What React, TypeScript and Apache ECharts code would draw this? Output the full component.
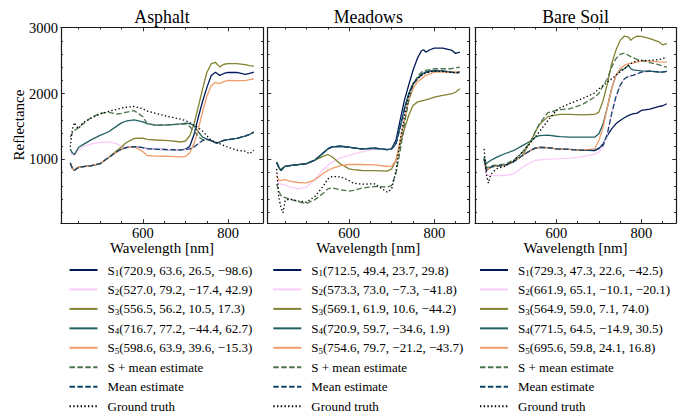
import React, { useEffect, useRef } from 'react';
import * as echarts from 'echarts';

// ---------------- data ----------------
const wavelengths = [430, 435, 440, 445, 450, 460, 480, 500, 520, 540, 550, 560, 580, 600, 610, 630, 660, 690, 700, 710, 720, 730, 740, 750, 760, 770, 775, 780, 790, 800, 820, 840, 850, 860];

const panelTitles = ['Asphalt', 'Meadows', 'Bare Soil'];

const xMajorTicks = [600, 800];
const xMinorTicks = [450, 500, 550, 650, 700, 750, 850];
const yMajorTicks = [1000, 2000, 3000];
const yMinorTicks = [200, 400, 600, 800, 1200, 1400, 1600, 1800, 2200, 2400, 2600, 2800];

const shiftParams = [
  ['720.9, 63.6, 26.5, −98.6', '527.0, 79.2, −17.4, 42.9', '556.5, 56.2, 10.5, 17.3', '716.7, 77.2, −44.4, 62.7', '598.6, 63.9, 39.6, −15.3'],
  ['712.5, 49.4, 23.7, 29.8', '573.3, 73.0, −7.3, −41.8', '569.1, 61.9, 10.6, −44.2', '720.9, 59.7, −34.6, 1.9', '754.6, 79.7, −21.2, −43.7'],
  ['729.3, 47.3, 22.6, −42.5', '661.9, 65.1, −10.1, −20.1', '564.9, 59.0, 7.1, 74.0', '771.5, 64.5, −14.9, 30.5', '695.6, 59.8, 24.1, 16.8'],
];

// Asphalt
const asphaltS1 = [945, 870, 835, 860, 880, 890, 905, 935, 1030, 1120, 1155, 1180, 1195, 1180, 1165, 1155, 1150, 1145, 1155, 1200, 1380, 1640, 1880, 2090, 2270, 2325, 2300, 2275, 2305, 2320, 2320, 2290, 2305, 2325];
const asphaltS2 = [1110, 1075, 1060, 1100, 1150, 1190, 1235, 1260, 1265, 1235, 1200, 1185, 1195, 1180, 1165, 1155, 1150, 1145, 1150, 1160, 1190, 1240, 1285, 1310, 1285, 1255, 1250, 1265, 1290, 1300, 1320, 1355, 1380, 1415];
const asphaltS3 = [945, 870, 835, 860, 880, 890, 905, 935, 1030, 1140, 1190, 1250, 1320, 1325, 1305, 1295, 1285, 1265, 1280, 1360, 1540, 1800, 2070, 2320, 2450, 2475, 2440, 2405, 2445, 2455, 2455, 2440, 2425, 2415];
const asphaltS4 = [1160, 1100, 1075, 1130, 1185, 1225, 1300, 1365, 1420, 1510, 1555, 1580, 1600, 1570, 1545, 1520, 1525, 1540, 1550, 1545, 1515, 1420, 1340, 1310, 1285, 1255, 1250, 1265, 1290, 1300, 1320, 1355, 1380, 1415];
const asphaltS5 = [945, 870, 835, 860, 880, 890, 905, 935, 1030, 1120, 1155, 1180, 1195, 1120, 1060, 1050, 1048, 1038, 1045, 1100, 1240, 1460, 1720, 1960, 2120, 2170, 2160, 2150, 2180, 2200, 2195, 2195, 2210, 2225];
const asphaltSMean = [1340, 1400, 1440, 1460, 1480, 1540, 1640, 1700, 1715, 1690, 1700, 1715, 1740, 1650, 1545, 1520, 1525, 1535, 1540, 1500, 1430, 1350, 1300, 1300, 1285, 1255, 1250, 1265, 1290, 1300, 1320, 1355, 1380, 1415];
const asphaltMean = [945, 870, 835, 860, 880, 890, 905, 935, 1030, 1120, 1155, 1180, 1195, 1180, 1165, 1155, 1150, 1145, 1150, 1160, 1190, 1240, 1285, 1310, 1285, 1255, 1250, 1265, 1290, 1300, 1320, 1355, 1380, 1415];
const asphaltTruth = [1190, 1450, 1560, 1500, 1470, 1560, 1630, 1690, 1730, 1760, 1780, 1790, 1805, 1770, 1735, 1700, 1650, 1610, 1590, 1560, 1520, 1480, 1430, 1360, 1290, 1265, 1250, 1240, 1210, 1185, 1140, 1125, 1085, 1140];

// Meadows
const meadowsS1 = [958, 880, 832, 870, 895, 905, 920, 935, 990, 1100, 1160, 1190, 1200, 1186, 1175, 1160, 1170, 1148, 1165, 1290, 1600, 1900, 2130, 2350, 2530, 2650, 2665, 2630, 2665, 2690, 2690, 2660, 2610, 2630];
const meadowsS2 = [690, 640, 625, 618, 614, 585, 553, 578, 700, 850, 908, 955, 1025, 1060, 1080, 1115, 1160, 1148, 1160, 1230, 1480, 1760, 1990, 2140, 2215, 2280, 2300, 2320, 2335, 2340, 2340, 2325, 2315, 2325];
const meadowsS3 = [958, 880, 832, 870, 895, 905, 920, 935, 990, 1050, 1075, 1040, 930, 857, 845, 832, 830, 822, 857, 984, 1237, 1465, 1668, 1820, 1870, 1890, 1895, 1906, 1925, 1946, 1972, 1995, 2020, 2073];
const meadowsS4 = [958, 880, 832, 870, 895, 905, 920, 935, 990, 1100, 1160, 1190, 1200, 1186, 1175, 1160, 1170, 1148, 1160, 1240, 1500, 1780, 2000, 2150, 2230, 2300, 2310, 2330, 2345, 2350, 2345, 2330, 2320, 2330];
const meadowsS5 = [756, 690, 680, 688, 695, 670, 650, 644, 690, 790, 832, 865, 905, 923, 923, 923, 918, 893, 898, 984, 1288, 1592, 1896, 2073, 2174, 2225, 2250, 2276, 2300, 2326, 2326, 2326, 2326, 2326];
const meadowsSMean = [629, 520, 452, 430, 420, 400, 360, 330, 390, 490, 553, 568, 540, 518, 530, 565, 590, 580, 604, 781, 1136, 1541, 1896, 2124, 2250, 2326, 2340, 2352, 2365, 2377, 2377, 2377, 2390, 2402];
const meadowsMean = [958, 880, 832, 870, 895, 905, 920, 935, 990, 1100, 1160, 1190, 1200, 1186, 1175, 1160, 1170, 1148, 1160, 1230, 1480, 1760, 1990, 2140, 2215, 2280, 2300, 2320, 2335, 2340, 2340, 2325, 2315, 2325];
const meadowsTruth = [857, 426, 274, 190, 376, 400, 370, 350, 440, 600, 705, 740, 735, 680, 640, 625, 629, 500, 553, 832, 1288, 1668, 1972, 2149, 2225, 2275, 2290, 2311, 2330, 2341, 2335, 2320, 2315, 2311];

// Bare Soil
const soilS1 = [1009, 832, 857, 880, 893, 900, 915, 968, 1060, 1140, 1171, 1183, 1180, 1161, 1158, 1152, 1140, 1136, 1165, 1237, 1364, 1465, 1541, 1592, 1632, 1668, 1680, 1693, 1703, 1744, 1765, 1800, 1815, 1845];
const soilS2 = [933, 780, 756, 756, 756, 756, 756, 781, 880, 955, 984, 994, 1004, 1009, 1012, 1019, 1040, 1080, 1110, 1196, 1389, 1693, 1946, 2124, 2225, 2261, 2270, 2276, 2300, 2326, 2341, 2330, 2326, 2336];
const soilS3 = [1009, 832, 857, 880, 893, 900, 915, 968, 1060, 1280, 1414, 1530, 1650, 1675, 1683, 1683, 1678, 1683, 1718, 1896, 2149, 2453, 2656, 2807, 2873, 2858, 2807, 2840, 2873, 2868, 2833, 2790, 2740, 2757];
const soilS4 = [1034, 933, 960, 984, 1000, 1034, 1090, 1136, 1210, 1280, 1338, 1360, 1370, 1352, 1345, 1338, 1338, 1338, 1389, 1541, 1794, 2073, 2276, 2352, 2377, 2428, 2377, 2360, 2352, 2345, 2341, 2326, 2330, 2336];
const soilS5 = [1009, 832, 857, 880, 893, 900, 915, 968, 1060, 1140, 1171, 1183, 1180, 1161, 1158, 1152, 1140, 1161, 1288, 1490, 1794, 2073, 2276, 2377, 2428, 2453, 2458, 2463, 2480, 2494, 2494, 2480, 2478, 2478];
const soilSMean = [1034, 880, 882, 895, 908, 915, 930, 990, 1110, 1280, 1414, 1540, 1710, 1744, 1755, 1769, 1830, 1946, 2000, 2124, 2225, 2402, 2529, 2595, 2615, 2580, 2560, 2544, 2520, 2504, 2470, 2440, 2420, 2402];
const soilMean = [1009, 832, 857, 880, 893, 900, 915, 968, 1060, 1140, 1171, 1183, 1180, 1161, 1158, 1152, 1140, 1136, 1171, 1212, 1389, 1693, 1946, 2124, 2225, 2261, 2270, 2276, 2300, 2326, 2341, 2330, 2326, 2336];
const soilTruth = [1161, 781, 640, 760, 806, 860, 900, 984, 1110, 1260, 1338, 1420, 1590, 1744, 1790, 1845, 1920, 2010, 2073, 2120, 2174, 2225, 2276, 2330, 2377, 2430, 2450, 2478, 2495, 2504, 2504, 2514, 2530, 2554];

const panelData = [
  [asphaltS1, asphaltS2, asphaltS3, asphaltS4, asphaltS5, asphaltSMean, asphaltMean, asphaltTruth],
  [meadowsS1, meadowsS2, meadowsS3, meadowsS4, meadowsS5, meadowsSMean, meadowsMean, meadowsTruth],
  [soilS1, soilS2, soilS3, soilS4, soilS5, soilSMean, soilMean, soilTruth],
];

const extraNames = ['S + mean estimate', 'Mean estimate', 'Ground truth'];

// ---------------- styles ----------------
const FONT = '"Liberation Serif", "Times New Roman", serif';
const X_MIN = 408.5;
const X_MAX = 881.5;
const Y_MIN = 35;
const Y_MAX = 3003;
const FRAME = '#1a1a1a';

const lineColors = ['#011959', '#FACCFA', '#828231', '#226061', '#F19D6B', '#4D734D', '#12456B', '#000000'];
const lineTypes: any[] = ['solid', 'solid', 'solid', 'solid', 'solid', [5.5, 2.4], [5.5, 2.4], [1.4, 2.3]];

const gridLefts = [61, 267.5, 475];
const gridWidths = [202, 201.5, 201];
const GRID_TOP = 27.5;
const GRID_HEIGHT = 195.5;
const legendLefts = [68.5, 272.3, 479];

function seriesNamesFor(gi: number): string[] {
  const s = shiftParams[gi].map((p, i) => `S${i + 1}(${p})`);
  return [...s, ...extraNames];
}

function legendFormatter(name: string): string {
  const m = /^S(\d)\((.*)\)$/.exec(name);
  if (m) return `{m|S}{s|${m[1]}}{m|(${m[2]})}`;
  return `{m|${name}}`;
}

function buildOption() {
  const grids: any[] = [];
  const xAxes: any[] = [];
  const yAxes: any[] = [];
  const tickStyle = { color: FRAME, width: 0.9 };
  const plainNumber = (v: number) => String(v);

  // grids 0..2 carry series + major ticks, grids 3..5 overlay the minor ticks
  for (let k = 0; k < 6; k++) {
    const gi = k % 3;
    const minor = k >= 3;
    grids.push({ left: gridLefts[gi], top: GRID_TOP, width: gridWidths[gi], height: GRID_HEIGHT, containLabel: false });
    const xt = minor ? xMinorTicks : xMajorTicks;
    const yt = minor ? yMinorTicks : yMajorTicks;
    const len = minor ? 2 : 3.8;
    ['bottom', 'top'].forEach((pos) => {
      xAxes.push({
        type: 'value', gridIndex: k, position: pos, min: X_MIN, max: X_MAX,
        splitLine: { show: false },
        axisLine: { show: !minor, onZero: false, lineStyle: { color: FRAME, width: 1.2 } },
        axisTick: { show: true, inside: true, length: len, customValues: xt, lineStyle: tickStyle },
        axisLabel: {
          show: !minor && pos === 'bottom', customValues: xMajorTicks, margin: 2, formatter: plainNumber,
          fontFamily: FONT, fontSize: 14.5, color: '#000',
        },
      });
    });
    ['left', 'right'].forEach((pos) => {
      yAxes.push({
        type: 'value', gridIndex: k, position: pos, min: Y_MIN, max: Y_MAX,
        splitLine: { show: false },
        axisLine: { show: !minor, onZero: false, lineStyle: { color: FRAME, width: 1.2 } },
        axisTick: { show: true, inside: true, length: len, customValues: yt, lineStyle: tickStyle },
        axisLabel: {
          show: !minor && pos === 'left' && gi === 0, customValues: yMajorTicks, margin: 3, formatter: plainNumber,
          fontFamily: FONT, fontSize: 14.5, color: '#000',
        },
      });
    });
  }

  const series: any[] = [];
  panelData.forEach((list, gi) => {
    const names = seriesNamesFor(gi);
    list.forEach((vals, si) => {
      series.push({
        type: 'line',
        name: names[si],
        xAxisIndex: gi * 2,
        yAxisIndex: gi * 2,
        data: wavelengths.map((w, i) => [w, vals[i]]),
        symbol: 'none',
        showSymbol: false,
        smooth: false,
        silent: true,
        lineStyle: { color: lineColors[si], width: 1.3, type: lineTypes[si] },
        itemStyle: { color: lineColors[si] },
        emphasis: { disabled: true },
      });
    });
  });

  const legends = panelData.map((_, gi) => ({
    data: seriesNamesFor(gi),
    orient: 'vertical',
    left: legendLefts[gi],
    top: 262,
    padding: 0,
    itemWidth: 28,
    itemHeight: 14,
    itemGap: 3.45,
    selectedMode: false,
    formatter: legendFormatter,
    itemStyle: { opacity: 0 },
    textStyle: {
      fontFamily: FONT, fontSize: 13, color: '#000', lineHeight: 16, padding: [0, 0, 0, 5],
      rich: {
        m: { fontFamily: FONT, fontSize: 13, lineHeight: 16, color: '#000' },
        s: { fontFamily: FONT, fontSize: 9, lineHeight: 10, padding: [6, 0, 0, 0], color: '#000' },
      },
    },
  }));

  const graphics: any[] = [];
  panelTitles.forEach((t, gi) => {
    const cx = gridLefts[gi] + gridWidths[gi] / 2;
    graphics.push({
      type: 'text', x: cx, y: 16.5, silent: true,
      style: { text: t, fontFamily: FONT, fontSize: 17.8, fill: '#000', align: 'center', verticalAlign: 'middle' },
    });
    graphics.push({
      type: 'text', x: cx, y: 247.5, silent: true,
      style: { text: 'Wavelength [nm]', fontFamily: FONT, fontSize: 15, fill: '#000', align: 'center', verticalAlign: 'middle' },
    });
  });
  graphics.push({
    type: 'text', x: 18.5, y: 125, rotation: Math.PI / 2, silent: true,
    style: { text: 'Reflectance', fontFamily: FONT, fontSize: 15, fill: '#000', align: 'center', verticalAlign: 'middle' },
  });

  return {
    animation: false,
    backgroundColor: '#ffffff',
    textStyle: { fontFamily: FONT },
    grid: grids,
    xAxis: xAxes,
    yAxis: yAxes,
    series,
    legend: legends,
    graphic: graphics,
  };
}

export default function App() {
  const ref = useRef<HTMLDivElement>(null);
  useEffect(() => {
    if (!ref.current) return;
    const chart = echarts.init(ref.current, null, { renderer: 'svg' });
    chart.setOption(buildOption());
    return () => chart.dispose();
  }, []);
  return (
    <div
      ref={ref}
      style={{ position: 'fixed', left: 0, top: 0, width: 694, height: 416, background: '#fff' }}
    />
  );
}
